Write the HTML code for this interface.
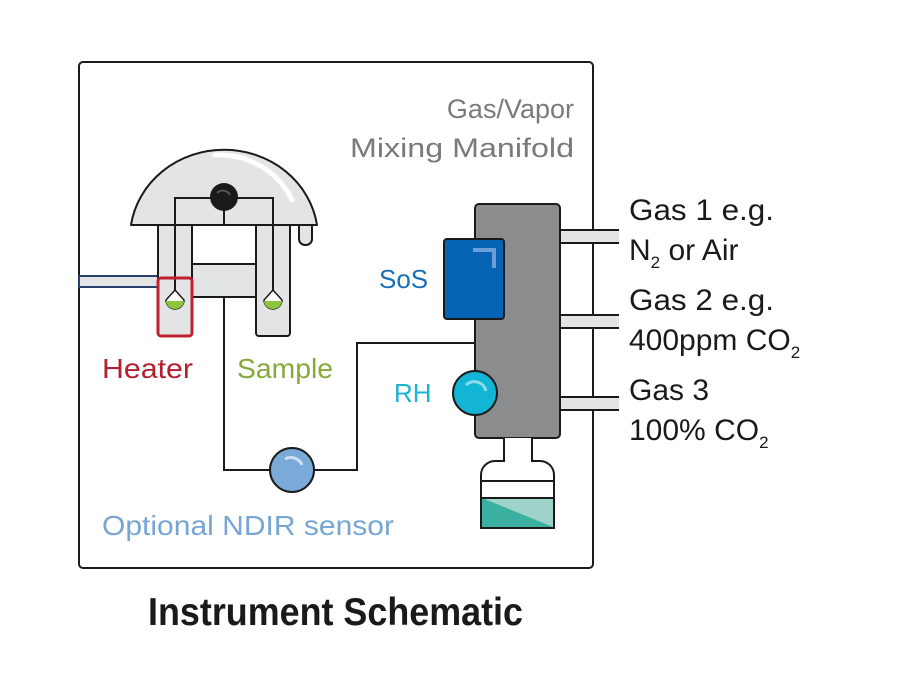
<!DOCTYPE html>
<html><head><meta charset="utf-8"><style>
html,body{margin:0;padding:0;background:#fff;}
svg{display:block;}
text{font-family:"Liberation Sans","DejaVu Sans",sans-serif;}
</style></head><body>
<svg width="900" height="694" viewBox="0 0 900 694" xmlns="http://www.w3.org/2000/svg">
<rect x="79" y="62" width="514" height="506" rx="4" fill="#fff" stroke="#1a1a1a" stroke-width="2"/>
<rect x="79" y="276" width="80" height="11" fill="#e3e4e5" stroke="#27406b" stroke-width="2"/>
<rect x="158" y="215" width="34" height="121" rx="3" fill="#e3e4e5" stroke="#1a1a1a" stroke-width="2"/>
<rect x="256" y="215" width="34" height="121" rx="3" fill="#e3e4e5" stroke="#1a1a1a" stroke-width="2"/>
<rect x="192" y="264" width="64" height="33" fill="#e3e4e5" stroke="#1a1a1a" stroke-width="2"/>
<rect x="299" y="218" width="13" height="27" rx="6" fill="#e3e4e5" stroke="#1a1a1a" stroke-width="2"/>
<path d="M131,225 A94,88 0 0 1 317,225 Z" fill="#e3e4e5" stroke="#1a1a1a" stroke-width="2" stroke-linejoin="round"/>
<path d="M215,155 A80,75 0 0 1 292,200" fill="none" stroke="#fff" stroke-width="5" stroke-linecap="round" opacity="0.9"/>
<path d="M175,290 V198 H273 V290 M224,198 V225" fill="none" stroke="#1a1a1a" stroke-width="2"/>
<circle cx="224" cy="197" r="14" fill="#1a1a1a"/>
<path d="M217,193 A8,8 0 0 1 230,195" fill="none" stroke="#555" stroke-width="2"/>
<path d="M175,290 L166,300 A9,9 0 0 0 184,300 Z" fill="#fff" stroke="#1a1a1a" stroke-width="1.5"/>
<path d="M166,301 A9,8 0 0 0 184,301 Z" fill="#8cc63f"/>
<path d="M273,290 L264,300 A9,9 0 0 0 282,300 Z" fill="#fff" stroke="#1a1a1a" stroke-width="1.5"/>
<path d="M264,301 A9,8 0 0 0 282,301 Z" fill="#8cc63f"/>
<rect x="158" y="278" width="34" height="58" rx="3" fill="none" stroke="#c0202f" stroke-width="3"/>
<path d="M224,297 V470 H357 V343 H475" fill="none" stroke="#1a1a1a" stroke-width="2"/>
<circle cx="292" cy="470" r="22" fill="#7aaad8" stroke="#1a1a1a" stroke-width="2"/>
<path d="M285,459 A12,12 0 0 1 302,465" fill="none" stroke="#cfe0f2" stroke-width="3"/>
<rect x="560" y="230" width="59" height="13" fill="#e3e4e5"/>
<path d="M560,230 H619 M560,243 H619" stroke="#1a1a1a" stroke-width="2"/>
<rect x="560" y="315" width="59" height="13" fill="#e3e4e5"/>
<path d="M560,315 H619 M560,328 H619" stroke="#1a1a1a" stroke-width="2"/>
<rect x="560" y="397" width="59" height="13" fill="#e3e4e5"/>
<path d="M560,397 H619 M560,410 H619" stroke="#1a1a1a" stroke-width="2"/>
<rect x="475" y="204" width="85" height="234" rx="4" fill="#8a8c8e" stroke="#1a1a1a" stroke-width="2"/>
<rect x="444" y="239" width="60" height="80" rx="3" fill="#0764b4" stroke="#1a1a1a" stroke-width="2"/>
<path d="M473,250 H494 V268" fill="none" stroke="#6a9fd8" stroke-width="4"/>
<circle cx="475" cy="393" r="22" fill="#12b5d4" stroke="#1a1a1a" stroke-width="2"/>
<path d="M466,385 A12,12 0 0 1 486,391" fill="none" stroke="#8fdcec" stroke-width="3"/>
<path d="M504,438 V461 H495 A14,14 0 0 0 481,475 V528 H554 V475 A14,14 0 0 0 540,461 H532 V438" fill="#fff" stroke="#1a1a1a" stroke-width="2"/>
<path d="M481,481 H554" stroke="#1a1a1a" stroke-width="2"/>
<rect x="482" y="498" width="71" height="29" fill="#3bb0a0"/>
<path d="M482,498 H553 V527 Z" fill="#9fd2c9"/>
<path d="M481,498 H554 M481,528 H554" stroke="#1a1a1a" stroke-width="2"/>
<text x="574" y="118" font-size="27" fill="#7a7a7a" text-anchor="end">Gas/Vapor</text>
<text x="350" y="157" font-size="27" fill="#7a7a7a" textLength="224" lengthAdjust="spacingAndGlyphs">Mixing Manifold</text>
<text x="379" y="288" font-size="26" fill="#1a6fb6">SoS</text>
<text x="394" y="402" font-size="26" fill="#19b4d1">RH</text>
<text x="102" y="378" font-size="28" fill="#b2202f" textLength="91" lengthAdjust="spacingAndGlyphs">Heater</text>
<text x="237" y="378" font-size="28" fill="#86a93a" textLength="96" lengthAdjust="spacingAndGlyphs">Sample</text>
<text x="102" y="535" font-size="28" fill="#77a6d3" textLength="292" lengthAdjust="spacingAndGlyphs">Optional NDIR sensor</text>
<g font-size="30" fill="#1a1a1a">
<text x="629" y="220" textLength="145" lengthAdjust="spacingAndGlyphs">Gas 1 e.g.</text>
<text x="629" y="260">N<tspan font-size="17" dy="8">2</tspan><tspan dy="-8"> or Air</tspan></text>
<text x="629" y="310" textLength="145" lengthAdjust="spacingAndGlyphs">Gas 2 e.g.</text>
<text x="629" y="350">400ppm CO<tspan font-size="17" dy="8">2</tspan></text>
<text x="629" y="400">Gas 3</text>
<text x="629" y="440">100% CO<tspan font-size="17" dy="8">2</tspan></text>
</g>
<text x="148" y="625" font-size="39" font-weight="bold" fill="#1a1a1a" textLength="375" lengthAdjust="spacingAndGlyphs">Instrument Schematic</text>
</svg>
</body></html>
